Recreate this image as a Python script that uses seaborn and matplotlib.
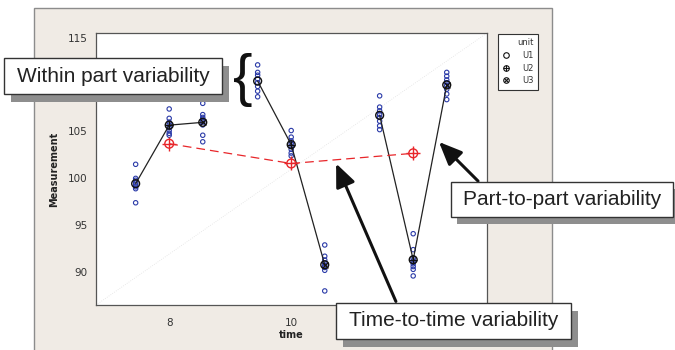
import pandas as pd
import matplotlib
matplotlib.use('Agg')
import matplotlib.pyplot as plt
import seaborn as sns
from matplotlib.patches import Rectangle, FancyArrowPatch
from matplotlib.lines import Line2D
from matplotlib.legend_handler import HandlerTuple

times = [8, 10, 12]
units = ['U1', 'U2', 'U3']

# eight parts measured for each time / unit
t8_u1 = [101.5, 100.0, 99.8, 99.5, 99.3, 99.1, 98.9, 97.4]
t8_u2 = [107.4, 106.4, 106.0, 105.7, 105.4, 105.1, 104.8, 104.6]
t8_u3 = [108.0, 106.8, 106.5, 106.3, 106.0, 105.7, 104.6, 103.9]
t10_u1 = [112.1, 111.3, 111.0, 110.6, 110.2, 109.8, 109.3, 108.7]
t10_u2 = [105.1, 104.4, 104.0, 103.7, 103.4, 103.1, 102.7, 102.4]
t10_u3 = [92.9, 91.7, 91.3, 91.0, 90.7, 90.5, 90.2, 88.0]
t12_u1 = [108.8, 107.6, 107.2, 106.8, 106.5, 106.1, 105.6, 105.2]
t12_u2 = [94.1, 92.4, 91.5, 91.2, 90.9, 90.6, 90.3, 89.6]
t12_u3 = [111.3, 110.9, 110.5, 110.2, 109.9, 109.5, 109.0, 108.4]

groups = {
    (8, 'U1'): t8_u1, (8, 'U2'): t8_u2, (8, 'U3'): t8_u3,
    (10, 'U1'): t10_u1, (10, 'U2'): t10_u2, (10, 'U3'): t10_u3,
    (12, 'U1'): t12_u1, (12, 'U2'): t12_u2, (12, 'U3'): t12_u3,
}
unit_shift = {'U1': -0.55, 'U2': 0.0, 'U3': 0.55}

rows = []
for (t, u), vals in groups.items():
    for v in vals:
        rows.append({'time': t, 'unit': u, 'Measurement': v})
df = pd.DataFrame(rows)
df['pos'] = df['time'] + df['unit'].map(unit_shift)

unit_means = df.groupby(['time', 'unit'], as_index=False)['Measurement'].mean()
unit_means['pos'] = unit_means['time'] + unit_means['unit'].map(unit_shift)
time_means = df.groupby('time', as_index=False)['Measurement'].mean()

blue = '#2a3aa8'
red = '#e8262a'
ink = '#111111'

sns.set_style('white')
plt.rcParams['font.family'] = ['DejaVu Sans']

W, H = 675, 350
fig = plt.figure(figsize=(6.75, 3.5), dpi=100)


def frect(x0, y0, x1, y1, **kw):
    r = Rectangle((x0 / W, 1 - y1 / H), (x1 - x0) / W, (y1 - y0) / H,
                  transform=fig.transFigure, **kw)
    fig.add_artist(r)
    return r


def fp(x, y):
    return (x / W, 1 - y / H)


# beige panel behind the plot
frect(34, 8, 552, 362, facecolor='#f0ebe5', edgecolor='#8c8c8c', lw=1, zorder=-1)

ax = fig.add_axes([96 / W, 1 - 305 / H, (487 - 96) / W, (305 - 33) / H])
ax.set_facecolor('white')
ax.plot([0, 1], [0, 1], transform=ax.transAxes, color='#e2e2e2', lw=0.6, ls=':', zorder=0)

sns.scatterplot(data=df, x='pos', y='Measurement', color=blue, edgecolor=blue,
                facecolors='none', s=10, linewidth=0.8, ax=ax, zorder=2, legend=False)

# unit means joined within each time
sns.lineplot(data=unit_means, x='pos', y='Measurement', units='time', estimator=None,
             color='#222222', lw=0.9, ax=ax, zorder=3)
sns.scatterplot(data=unit_means, x='pos', y='Measurement', marker='o', facecolors='none',
                edgecolor=ink, s=32, linewidth=1.0, ax=ax, zorder=4, legend=False)
sns.scatterplot(data=unit_means[unit_means['unit'] == 'U2'], x='pos', y='Measurement',
                marker='+', color=ink, s=32, linewidth=0.9, ax=ax, zorder=4, legend=False)
sns.scatterplot(data=unit_means[unit_means['unit'] == 'U3'], x='pos', y='Measurement',
                marker='x', color=ink, s=18, linewidth=0.9, ax=ax, zorder=4, legend=False)

# time means
sns.lineplot(data=time_means, x='time', y='Measurement', estimator=None, color=red,
             lw=0.9, linestyle=(0, (7, 4)), ax=ax, zorder=3)
sns.scatterplot(data=time_means, x='time', y='Measurement', marker='o', facecolors='none',
                edgecolor=red, s=40, linewidth=1.0, ax=ax, zorder=5, legend=False)
sns.scatterplot(data=time_means, x='time', y='Measurement', marker='+', color=red,
                s=110, linewidth=1.0, ax=ax, zorder=5, legend=False)

ax.set_xlim(6.80, 13.21)
ax.set_ylim(86.5, 115.5)
ax.set_xticks(times)
ax.set_xticklabels(['8', '10', ''])  # 12 sits behind the callout
ax.set_yticks([90, 95, 100, 105, 110, 115])
ax.set_yticklabels(['90', '95', '100', '105', '', '115'])  # 110 sits behind the callout
ax.tick_params(axis='both', direction='out', length=3, width=0.8, color='#333333',
               labelsize=7.5, labelcolor='#333333')
ax.tick_params(axis='x', pad=6)
ax.tick_params(axis='y', pad=3)
for sp in ax.spines.values():
    sp.set_visible(True)
    sp.set_color('#555555')
    sp.set_linewidth(0.9)
ax.set_xlabel('time', fontsize=7, fontweight='bold', labelpad=2, color='#222222')
ax.set_ylabel('Measurement', fontsize=7, fontweight='bold', labelpad=6, color='#222222')

h1 = Line2D([], [], marker='o', ls='', mfc='none', mec=ink, ms=4, mew=0.8)
h2o = Line2D([], [], marker='o', ls='', mfc='none', mec=ink, ms=4, mew=0.8)
h2p = Line2D([], [], marker='+', ls='', color=ink, ms=4, mew=0.8)
h3o = Line2D([], [], marker='o', ls='', mfc='none', mec=ink, ms=4, mew=0.8)
h3x = Line2D([], [], marker='x', ls='', color=ink, ms=3, mew=0.8)
leg = ax.legend([h1, (h2o, h2p), (h3o, h3x)], units, title='unit',
                handler_map={tuple: HandlerTuple(ndivide=1)},
                loc='upper left', bbox_to_anchor=fp(498, 34), bbox_transform=fig.transFigure,
                fontsize=6, title_fontsize=6, frameon=True, fancybox=False,
                edgecolor='#333333', framealpha=1, borderpad=0.5, labelspacing=0.45,
                handlelength=0.8, handletextpad=1.6, borderaxespad=0, alignment='right')
leg.get_frame().set_linewidth(0.8)
for t in leg.get_texts():
    t.set_color('#333333')
leg.get_title().set_color('#333333')


def callout(x0, y0, x1, y1, text, dx=7, dy=8):
    frect(x0 + dx, y0 + dy, x1 + dx, y1 + dy, facecolor='#8e8e8e', edgecolor='none', zorder=6)
    frect(x0, y0, x1, y1, facecolor='white', edgecolor='#333333', lw=1, zorder=7)
    fig.text((x0 + x1) / 2 / W, 1 - (y0 + y1) / 2 / H, text, ha='center', va='center',
             fontsize=15, family='Liberation Sans', color='#222222', zorder=8)


def arrow(tail, tip):
    fig.add_artist(FancyArrowPatch(fp(*tail), fp(*tip), transform=fig.transFigure,
                                   arrowstyle='-|>,head_length=0.7,head_width=0.3',
                                   mutation_scale=20, lw=2.2, color=ink, zorder=5))


arrow((480, 183), (437, 140))
arrow((397, 304), (335, 161))
callout(4, 58, 222, 94, 'Within part variability')
callout(451, 182, 673, 217, 'Part-to-part variability', dx=6, dy=7)
callout(336, 303, 571, 339, 'Time-to-time variability')

fig.text(243 / W, 1 - 80 / H, '{', ha='center', va='center', fontsize=42,
         family='Liberation Sans', color=ink, zorder=8)

fig.savefig('out.png', dpi=100)
